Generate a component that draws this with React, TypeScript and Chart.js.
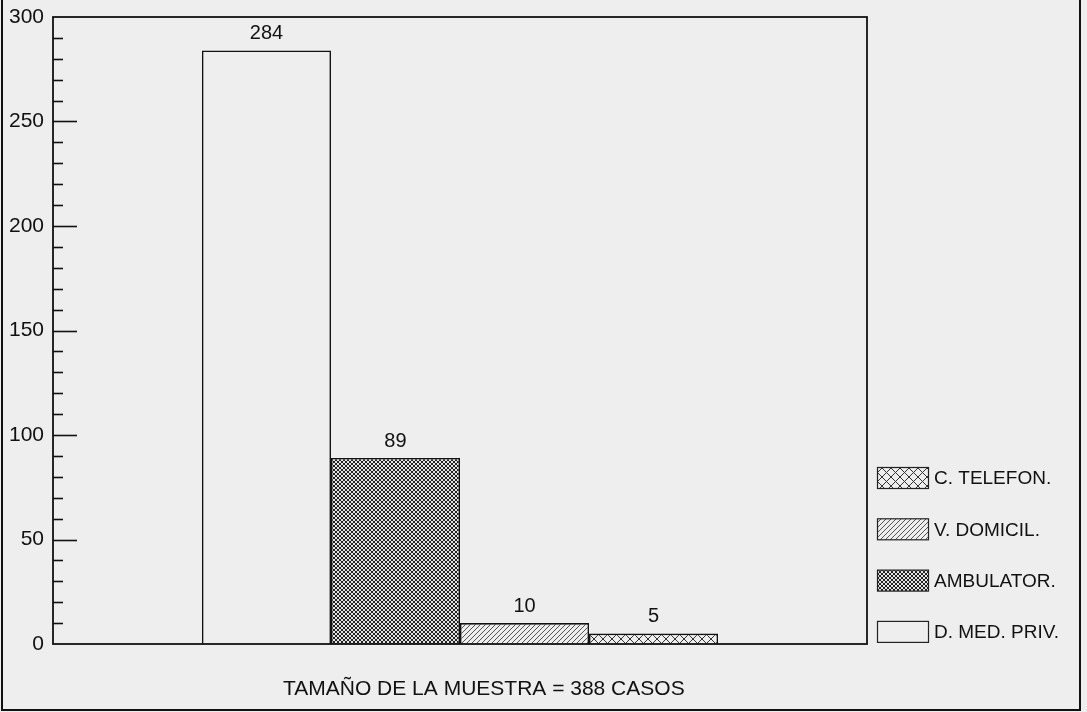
import React, { useEffect, useRef } from 'react';
import { Chart, registerables } from 'chart.js';
Chart.register(...registerables);

const categories = [''];
const seriesNames = ['D. MED. PRIV.', 'AMBULATOR.', 'V. DOMICIL.', 'C. TELEFON.'];
const seriesValues = [284, 89, 10, 5];
const seriesPatterns = ['none', 'dense', 'diag', 'cross'];
const legendOrder = ['C. TELEFON.', 'V. DOMICIL.', 'AMBULATOR.', 'D. MED. PRIV.'];
const yMin = 0;
const yMax = 300;
const yMajorStep = 50;
const yMinorStep = 10;
const xTitle = 'TAMAÑO DE LA MUESTRA = 388 CASOS';

const BG = '#eeeeee';
const FONT = '"Liberation Sans", Arial, sans-serif';

function makePattern(kind: string): CanvasPattern | string {
  if (kind === 'none') return BG;
  const c = document.createElement('canvas');
  const s = kind === 'dense' ? 4 : kind === 'diag' ? 5 : 9;
  c.width = s;
  c.height = s;
  const g = c.getContext('2d')!;
  g.fillStyle = kind === 'dense' ? '#e4e4e4' : BG;
  g.fillRect(0, 0, s, s);
  g.strokeStyle = kind === 'dense' ? '#222' : kind === 'diag' ? '#555' : '#333';
  g.lineWidth = 1;
  const seg = (x1: number, y1: number, x2: number, y2: number) => {
    g.beginPath();
    g.moveTo(x1, y1);
    g.lineTo(x2, y2);
    g.stroke();
  };
  seg(-1, s + 1, s + 1, -1);
  seg(-1, 1, 1, -1);
  seg(s - 1, s + 1, s + 1, s - 1);
  if (kind !== 'diag') {
    seg(-1, -1, s + 1, s + 1);
    seg(s - 1, -1, s + 1, 1);
    seg(-1, s - 1, 1, s + 1);
  }
  const p = g.createPattern(c, 'repeat');
  return p || BG;
}

export default function App() {
  const ref = useRef<HTMLCanvasElement | null>(null);

  useEffect(() => {
    if (!ref.current) return;
    const fills = seriesPatterns.map(makePattern);

    const decor = {
      id: 'decor',
      beforeDraw(chart: any) {
        const ctx = chart.ctx;
        ctx.save();
        ctx.fillStyle = BG;
        ctx.fillRect(0, 0, chart.width, chart.height);
        ctx.restore();
      },
      afterDraw(chart: any) {
        const ctx = chart.ctx;
        const a = chart.chartArea;
        const y = chart.scales.y;
        ctx.save();
        ctx.strokeStyle = '#111';
        ctx.lineWidth = 1.8;
        ctx.strokeRect(a.left, a.top, a.right - a.left, a.bottom - a.top);
        ctx.lineWidth = 1.6;
        for (let v = yMin + yMinorStep; v < yMax; v += yMinorStep) {
          const py = Math.round(y.getPixelForValue(v)) + 0.5;
          const len = v % yMajorStep === 0 ? 24 : 10;
          ctx.beginPath();
          ctx.moveTo(a.left, py);
          ctx.lineTo(a.left + len, py);
          ctx.stroke();
        }
        ctx.lineWidth = 2;
        ctx.beginPath();
        ctx.moveTo(2, 0);
        ctx.lineTo(2, 710);
        ctx.lineTo(1080, 710);
        ctx.lineTo(1080, 0);
        ctx.stroke();
        ctx.fillStyle = '#111';
        ctx.font = '20px ' + FONT;
        ctx.textAlign = 'center';
        ctx.textBaseline = 'middle';
        chart.data.datasets.forEach((ds: any, i: number) => {
          const el = chart.getDatasetMeta(i).data[0];
          ctx.fillText(String(ds.data[0]), el.x, el.y - 17);
        });
        ctx.textAlign = 'left';
        ctx.font = '19px ' + FONT;
        legendOrder.forEach((name, k) => {
          const idx = seriesNames.indexOf(name);
          const cy = 478 + k * 51.3;
          ctx.fillStyle = fills[idx] as any;
          ctx.fillRect(877, cy - 10.5, 51, 21);
          ctx.lineWidth = 1.2;
          ctx.strokeStyle = '#222';
          ctx.strokeRect(877.5, cy - 10.5, 51, 21);
          ctx.fillStyle = '#111';
          ctx.fillText(name, 934, cy + 1);
        });
        ctx.font = '21px ' + FONT;
        ctx.fillText(xTitle, 283, 689);
        ctx.restore();
      },
    };

    const chart = new Chart(ref.current, {
      type: 'bar',
      data: {
        labels: categories,
        datasets: seriesNames.map((name, i) => ({
          label: name,
          data: [seriesValues[i]],
          backgroundColor: fills[i] as any,
          borderColor: '#111',
          borderWidth: 1.6,
          borderSkipped: 'bottom',
          barPercentage: 1,
          categoryPercentage: 0.634,
        })),
      },
      options: {
        responsive: false,
        animation: false,
        devicePixelRatio: 1,
        layout: { padding: { top: 17, bottom: 68, right: 220, left: 0 } },
        plugins: {
          legend: { display: false },
          tooltip: { enabled: false },
          title: { display: false },
        },
        scales: {
          x: { display: false },
          y: {
            min: yMin,
            max: yMax,
            grid: { display: false, drawTicks: false },
            border: { display: false },
            ticks: {
              stepSize: yMajorStep,
              padding: 9,
              color: '#111',
              font: { size: 21, family: FONT },
            },
            afterFit: (s: any) => {
              s.width = 53;
              s.paddingTop = 0;
              s.paddingBottom = 0;
            },
          },
        },
      },
      plugins: [decor],
    });
    return () => chart.destroy();
  }, []);

  return (
    <div style={{ position: 'fixed', left: 0, top: 0, width: 1087, height: 712, background: BG }}>
      <canvas ref={ref} width={1087} height={712} style={{ display: 'block' }} />
    </div>
  );
}
